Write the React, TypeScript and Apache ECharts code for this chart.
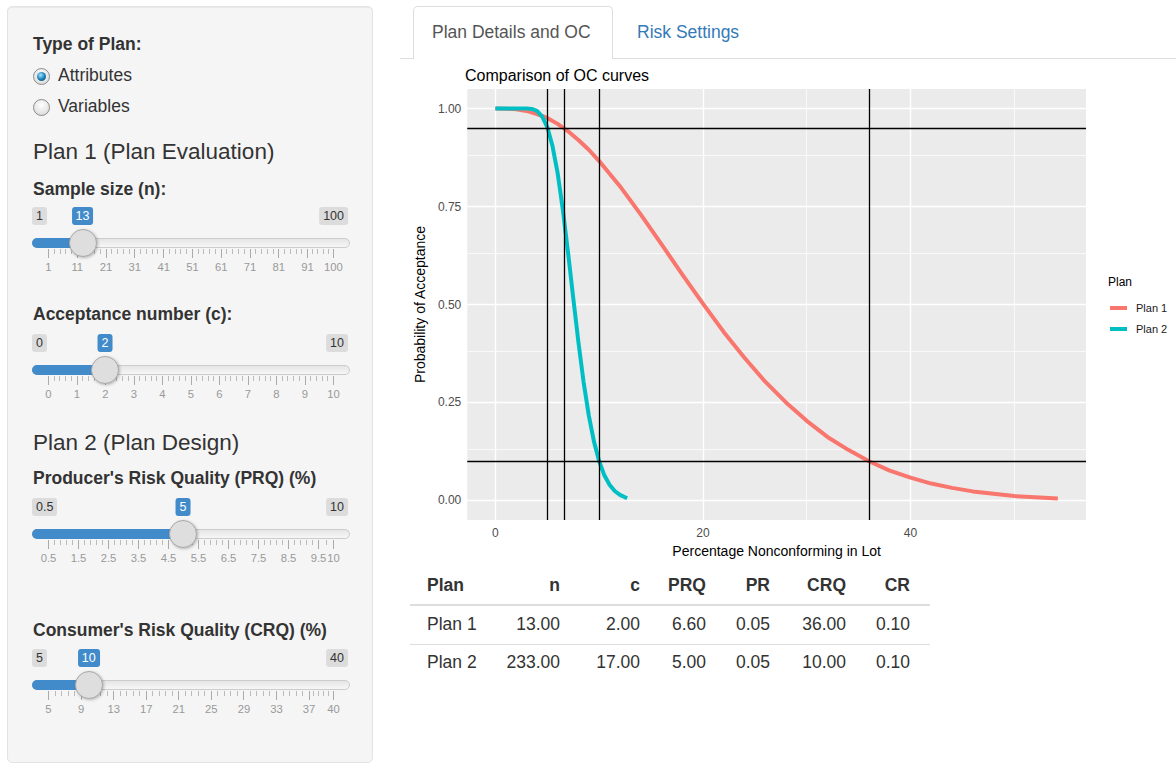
import React, { useEffect, useRef } from "react";
import * as echarts from "echarts";

const FONT = '"Liberation Sans", Arial, Helvetica, sans-serif';

// ---------------- chart data ----------------
const seriesNames = ["Plan 1", "Plan 2"];
const seriesColors = ["#F8766D", "#00BFC4"];
const plan1X = [0, 1, 2, 3, 4, 5, 6, 7, 8, 9, 10, 12, 14, 16, 18, 20, 22, 24, 26, 28, 30, 32, 34, 36, 38, 40, 42, 44, 46, 48, 50, 52, 54.2];
const plan1Y = [1, 0.9997, 0.998, 0.994, 0.986, 0.976, 0.961, 0.942, 0.92, 0.895, 0.866, 0.802, 0.73, 0.654, 0.577, 0.502, 0.43, 0.364, 0.303, 0.25, 0.203, 0.162, 0.129, 0.1, 0.076, 0.058, 0.043, 0.032, 0.023, 0.017, 0.011, 0.008, 0.005];
const plan2X = [0, 1, 2, 3, 3.5, 4, 4.5, 5, 5.5, 6, 6.5, 7, 7.5, 8, 8.5, 9, 9.5, 10, 10.5, 11, 11.5, 12, 12.5, 12.7];
const plan2Y = [1, 1, 1, 1, 0.999, 0.994, 0.98, 0.953, 0.905, 0.835, 0.742, 0.633, 0.517, 0.404, 0.302, 0.217, 0.15, 0.1, 0.064, 0.04, 0.024, 0.014, 0.008, 0.006];
const qualityLines = [5, 6.6, 10, 36];
const riskLines = [0.95, 0.1];
const xMajor = [0, 20, 40];
const xMinor = [10, 30, 50];
const yMajor = [0, 0.25, 0.5, 0.75, 1];
const yMinor = [0.125, 0.375, 0.625, 0.875];
const xRange = [-2.71, 56.91];
const yRange = [-0.05, 1.05];
const yLabelText = ["0.00", "0.25", "0.50", "0.75", "1.00"];

// ---------------- table data ----------------
const tableHeader = ["Plan", "n", "c", "PRQ", "PR", "CRQ", "CR"];
const tableRows = [
  ["Plan 1", "13.00", "2.00", "6.60", "0.05", "36.00", "0.10"],
  ["Plan 2", "233.00", "17.00", "5.00", "0.05", "10.00", "0.10"],
];
const tableColRight = [0, 560, 640, 706, 770, 846, 910];

// ---------------- sidebar data ----------------
const sliders = [
  { cy: 216, min: 1, max: 100, value: 13, ticks: [1, 11, 21, 31, 41, 51, 61, 71, 81, 91, 100] },
  { cy: 343, min: 0, max: 10, value: 2, ticks: [0, 1, 2, 3, 4, 5, 6, 7, 8, 9, 10] },
  { cy: 507, min: 0.5, max: 10, value: 5, ticks: [0.5, 1.5, 2.5, 3.5, 4.5, 5.5, 6.5, 7.5, 8.5, 9.5, 10] },
  { cy: 658, min: 5, max: 40, value: 10, ticks: [5, 9, 13, 17, 21, 25, 29, 33, 37, 40] },
];
const sideTexts = [
  { text: "Type of Plan:", cy: 45, bold: true, size: 17.5 },
  { text: "Plan 1 (Plan Evaluation)", cy: 152, bold: false, size: 22.5 },
  { text: "Sample size (n):", cy: 190, bold: true, size: 17.5 },
  { text: "Acceptance number (c):", cy: 315, bold: true, size: 17.5 },
  { text: "Plan 2 (Plan Design)", cy: 443, bold: false, size: 22.5 },
  { text: "Producer's Risk Quality (PRQ) (%)", cy: 479, bold: true, size: 17.5 },
  { text: "Consumer's Risk Quality (CRQ) (%)", cy: 631, bold: true, size: 17.5 },
];
const radios = [
  { label: "Attributes", cy: 77, checked: true },
  { label: "Variables", cy: 108, checked: false },
];

function Txt(props: { x: number; cy: number; size: number; bold?: boolean; color?: string; children: any; align?: "left" | "right" | "center" }) {
  const { x, cy, size, bold, color, children, align } = props;
  const tx = align === "right" ? "-100%" : align === "center" ? "-50%" : "0";
  return (
    <span
      style={{
        position: "absolute",
        left: x,
        top: cy,
        transform: `translate(${tx}, -50%)`,
        fontSize: size,
        fontWeight: bold ? 700 : 400,
        color: color || "#333",
        lineHeight: 1,
        whiteSpace: "nowrap",
        fontFamily: FONT,
      }}
    >
      {children}
    </span>
  );
}

function Slider(props: { cy: number; min: number; max: number; value: number; ticks: number[] }) {
  const { cy, min, max, value, ticks } = props;
  const x0 = 48;
  const w = 285;
  const px = (v: number) => x0 + ((v - min) / (max - min)) * w;
  const trackY = cy + 27;
  const hx = px(value);
  const box = (x: number, text: string, blue: boolean, anchor: "left" | "right" | "center") => {
    const tx = anchor === "right" ? "-100%" : anchor === "center" ? "-50%" : "0";
    return (
      <div
        style={{
          position: "absolute",
          left: x,
          top: cy,
          transform: `translate(${tx}, -50%)`,
          background: blue ? "#428bca" : "rgba(0,0,0,0.1)",
          color: blue ? "#fff" : "#333",
          fontSize: 12.5,
          lineHeight: "18px",
          padding: "0 4px",
          borderRadius: 3,
          fontFamily: FONT,
          whiteSpace: "nowrap",
        }}
      >
        {text}
      </div>
    );
  };
  const minorTicks: number[] = [];
  for (let i = 0; i < ticks.length - 1; i++) {
    const a = px(ticks[i]);
    const b = px(ticks[i + 1]);
    const n = b - a > 20 ? 4 : 1;
    for (let k = 1; k <= n; k++) minorTicks.push(a + ((b - a) * k) / (n + 1));
  }
  return (
    <>
      {box(32, String(min), false, "left")}
      {box(348, String(max), false, "right")}
      {box(hx, String(value), true, "center")}
      <div
        style={{
          position: "absolute",
          left: 32,
          top: trackY - 5,
          width: 316,
          height: 8,
          border: "1px solid #cccccc",
          borderRadius: 8,
          background: "linear-gradient(#dddddd -50%, #ffffff 150%)",
        }}
      />
      <div
        style={{
          position: "absolute",
          left: 32,
          top: trackY - 5,
          width: hx - 32,
          height: 10,
          borderRadius: "8px 0 0 8px",
          background: "#428bca",
        }}
      />
      {ticks.map((t, i) => (
        <div key={"M" + i} style={{ position: "absolute", left: px(t), top: trackY + 6, width: 1, height: 9, background: "#aaa" }} />
      ))}
      {minorTicks.map((t, i) => (
        <div key={"m" + i} style={{ position: "absolute", left: t, top: trackY + 6, width: 1, height: 5, background: "#bbb" }} />
      ))}
      {ticks.map((t, i) => (
        <Txt key={"l" + i} x={px(t) + 0.5} cy={trackY + 25} size={11.25} color="#999" align="center">
          {String(t)}
        </Txt>
      ))}
      <div
        style={{
          position: "absolute",
          left: hx - 14,
          top: trackY - 14,
          width: 26,
          height: 26,
          borderRadius: "50%",
          border: "1px solid #aaa",
          background: "#dedede",
          boxShadow: "1px 1px 3px rgba(0,0,0,0.25)",
        }}
      />
    </>
  );
}

function Radio(props: { cy: number; checked: boolean }) {
  const { cy, checked } = props;
  return (
    <div
      style={{
        position: "absolute",
        left: 33,
        top: cy - 9,
        width: 17,
        height: 17,
        borderRadius: "50%",
        border: "1px solid #8a8a8a",
        background: "radial-gradient(circle at 50% 35%, #ffffff, #d4d4d4)",
        boxSizing: "border-box",
      }}
    >
      {checked && (
        <div
          style={{
            position: "absolute",
            left: 3,
            top: 3,
            width: 9,
            height: 9,
            borderRadius: "50%",
            background: "radial-gradient(circle at 40% 35%, #a8e6ff, #1d84bb 50%, #073a5a)",
          }}
        />
      )}
    </div>
  );
}

function Sidebar() {
  return (
    <div
      style={{
        position: "absolute",
        left: 7,
        top: 6,
        width: 366,
        height: 757,
        background: "#f5f5f5",
        border: "1px solid #e3e3e3",
        borderRadius: 5,
        boxSizing: "border-box",
        boxShadow: "inset 0 1px 1px rgba(0,0,0,0.05)",
      }}
    >
      <div style={{ position: "absolute", left: -8, top: -7 }}>
        {sideTexts.map((t, i) => (
          <Txt key={i} x={33} cy={t.cy} size={t.size} bold={t.bold}>
            {t.text}
          </Txt>
        ))}
        {radios.map((r, i) => (
          <React.Fragment key={i}>
            <Radio cy={r.cy} checked={r.checked} />
            <Txt x={58} cy={r.cy - 1} size={17.5}>
              {r.label}
            </Txt>
          </React.Fragment>
        ))}
        {sliders.map((s, i) => (
          <Slider key={i} {...s} />
        ))}
      </div>
    </div>
  );
}

function Tabs() {
  return (
    <>
      <div style={{ position: "absolute", left: 400, top: 58, width: 776, height: 1, background: "#dddddd" }} />
      <div
        style={{
          position: "absolute",
          left: 413,
          top: 6,
          width: 200,
          height: 53,
          border: "1px solid #dddddd",
          borderBottom: "none",
          borderRadius: "5px 5px 0 0",
          background: "#fff",
          boxSizing: "border-box",
        }}
      />
      <Txt x={432} cy={33} size={17.5} color="#555">
        Plan Details and OC
      </Txt>
      <Txt x={637} cy={33} size={17.5} color="#337ab7">
        Risk Settings
      </Txt>
    </>
  );
}

function PlanTable() {
  const rowY = [625, 663];
  return (
    <>
      {tableHeader.map((h, j) => (
        <Txt key={"h" + j} x={j === 0 ? 427 : tableColRight[j]} cy={586} size={17.5} bold align={j === 0 ? "left" : "right"}>
          {h}
        </Txt>
      ))}
      <div style={{ position: "absolute", left: 410, top: 604, width: 520, height: 2, background: "#dddddd" }} />
      <div style={{ position: "absolute", left: 410, top: 644, width: 520, height: 1, background: "#dddddd" }} />
      {tableRows.map((row, i) =>
        row.map((c, j) => (
          <Txt key={i + "-" + j} x={j === 0 ? 427 : tableColRight[j]} cy={rowY[i]} size={17.5} align={j === 0 ? "left" : "right"}>
            {c}
          </Txt>
        ))
      )}
    </>
  );
}

function OcChart() {
  const ref = useRef<HTMLDivElement>(null);
  useEffect(() => {
    if (!ref.current) return;
    const chart = echarts.init(ref.current, null, { renderer: "svg" });
    const gridLines = [
      ...xMinor.map((v) => ({ xAxis: v, lineStyle: { width: 0.7 } })),
      ...yMinor.map((v) => ({ yAxis: v, lineStyle: { width: 0.7 } })),
      ...xMajor.map((v) => ({ xAxis: v, lineStyle: { width: 1.4 } })),
      ...yMajor.map((v) => ({ yAxis: v, lineStyle: { width: 1.4 } })),
    ];
    const refLines = [
      ...qualityLines.map((v) => ({ xAxis: v })),
      ...riskLines.map((v) => ({ yAxis: v })),
    ];
    const curves = [
      plan1X.map((x, i) => [x, plan1Y[i]]),
      plan2X.map((x, i) => [x, plan2Y[i]]),
    ];
    const option: any = {
      animation: false,
      textStyle: { fontFamily: FONT },
      title: [
        {
          text: "Comparison of OC curves",
          left: 60,
          top: 7,
          padding: 0,
          textStyle: { fontSize: 16, fontWeight: "normal", color: "#000", fontFamily: FONT },
        },
        {
          text: "Plan",
          left: 703,
          top: 216,
          padding: 0,
          textStyle: { fontSize: 12, fontWeight: "normal", color: "#000", fontFamily: FONT },
        },
      ],
      legend: {
        data: seriesNames,
        orient: "vertical",
        left: 705,
        top: 241,
        padding: 0,
        itemWidth: 17,
        itemHeight: 4,
        itemGap: 7,
        icon: "rect",
        textStyle: { fontSize: 11, color: "#1a1a1a", lineHeight: 14, padding: [0, 0, 0, 4], fontFamily: FONT },
      },
      grid: {
        left: 60,
        top: 29,
        width: 621,
        height: 431,
        show: true,
        backgroundColor: "#EBEBEB",
        borderWidth: 0,
      },
      xAxis: {
        type: "value",
        min: xRange[0],
        max: xRange[1],
        name: "Percentage Nonconforming in Lot",
        nameLocation: "middle",
        nameGap: 24,
        nameTextStyle: { fontSize: 14, color: "#000", fontFamily: FONT },
        axisLine: { show: false },
        splitLine: { show: false },
        axisTick: { show: true, customValues: xMajor, length: 4, lineStyle: { color: "#333", width: 1 } },
        axisLabel: { customValues: xMajor, color: "#4D4D4D", fontSize: 12, margin: 7, fontFamily: FONT },
      },
      yAxis: {
        type: "value",
        min: yRange[0],
        max: yRange[1],
        name: "Probability of Acceptance",
        nameLocation: "middle",
        nameGap: 31,
        nameTextStyle: { fontSize: 14, color: "#000", fontFamily: FONT },
        axisLine: { show: false },
        splitLine: { show: false },
        axisTick: { show: true, customValues: yMajor, length: 4, lineStyle: { color: "#333", width: 1 } },
        axisLabel: {
          customValues: yMajor,
          color: "#4D4D4D",
          fontSize: 12,
          margin: 6,
          fontFamily: FONT,
          formatter: (v: number) => {
            const idx = yMajor.findIndex((m) => Math.abs(m - v) < 1e-9);
            return idx >= 0 ? yLabelText[idx] : "";
          },
        },
      },
      series: [
        {
          type: "line",
          name: "_grid",
          data: [],
          silent: true,
          z: 1,
          markLine: {
            silent: true,
            z: 1,
            symbol: ["none", "none"],
            label: { show: false },
            emphasis: { disabled: true },
            lineStyle: { color: "#ffffff", type: "solid", width: 1.4 },
            data: gridLines,
          },
        },
        ...seriesNames.map((name, i) => ({
          type: "line",
          name,
          data: curves[i],
          showSymbol: false,
          symbol: "none",
          smooth: false,
          z: 3,
          silent: true,
          emphasis: { disabled: true },
          itemStyle: { color: seriesColors[i] },
          lineStyle: { color: seriesColors[i], width: 4, join: "round" },
        })),
        {
          type: "line",
          name: "_ref",
          data: [],
          silent: true,
          z: 5,
          markLine: {
            silent: true,
            z: 6,
            symbol: ["none", "none"],
            label: { show: false },
            emphasis: { disabled: true },
            lineStyle: { color: "#000000", type: "solid", width: 1.3 },
            data: refLines,
          },
        },
      ],
    };
    chart.setOption(option);
    return () => chart.dispose();
  }, []);
  return <div ref={ref} style={{ position: "absolute", left: 405, top: 60, width: 771, height: 510 }} />;
}

export default function App() {
  return (
    <div
      style={{
        position: "fixed",
        left: 0,
        top: 0,
        width: 1176,
        height: 765,
        background: "#ffffff",
        overflow: "hidden",
        fontFamily: FONT,
      }}
    >
      <Sidebar />
      <Tabs />
      <OcChart />
      <PlanTable />
    </div>
  );
}
